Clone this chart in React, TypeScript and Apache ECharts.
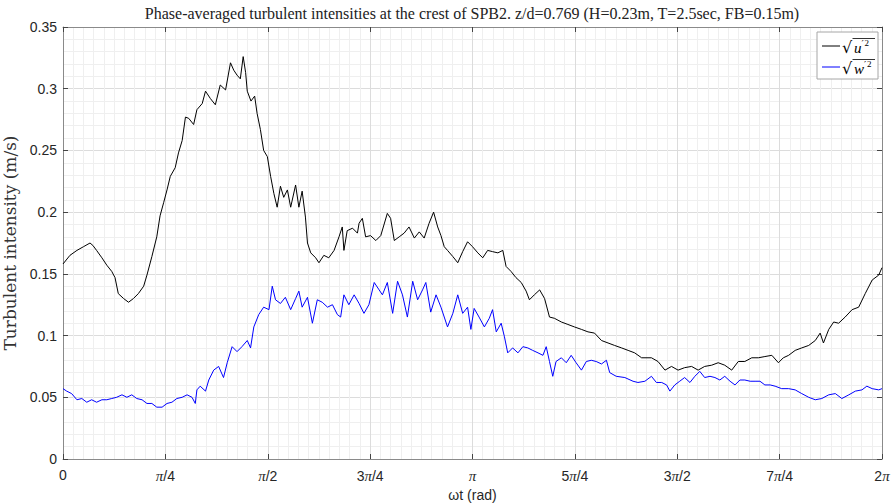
import React, { useEffect, useRef } from "react";
import * as echarts from "echarts";

// Phase samples are stored in units of π (0 … 2 covers one wave period).
const uPhase = [
  0.000, 0.017, 0.034, 0.050, 0.066, 0.073, 0.082, 0.095, 0.107, 0.119, 0.127, 0.135, 0.148, 0.160, 0.172, 0.184,
  0.197, 0.205, 0.217, 0.229, 0.237, 0.246, 0.254, 0.262, 0.274, 0.282, 0.291, 0.299, 0.307, 0.319, 0.327, 0.340,
  0.348, 0.360, 0.372, 0.384, 0.397, 0.409, 0.417, 0.425, 0.433, 0.440, 0.446, 0.450, 0.459, 0.468, 0.474, 0.482,
  0.490, 0.499, 0.507, 0.515, 0.523, 0.531, 0.539, 0.548, 0.556, 0.568, 0.576, 0.584, 0.592, 0.597, 0.605, 0.617,
  0.625, 0.637, 0.649, 0.662, 0.674, 0.682, 0.686, 0.694, 0.707, 0.719, 0.723, 0.731, 0.739, 0.751, 0.764, 0.776,
  0.792, 0.800, 0.809, 0.821, 0.833, 0.845, 0.858, 0.870, 0.882, 0.894, 0.905, 0.915, 0.923, 0.931, 0.939, 0.952,
  0.964, 0.976, 0.988, 1.000, 1.013, 1.025, 1.037, 1.049, 1.062, 1.074, 1.082, 1.094, 1.106, 1.119, 1.131, 1.139,
  1.151, 1.164, 1.176, 1.188, 1.200, 1.217, 1.233, 1.249, 1.266, 1.282, 1.298, 1.315, 1.331, 1.347, 1.364, 1.380,
  1.396, 1.413, 1.437, 1.453, 1.470, 1.486, 1.502, 1.518, 1.535, 1.551, 1.567, 1.584, 1.600, 1.616, 1.633, 1.649,
  1.665, 1.682, 1.698, 1.714, 1.731, 1.747, 1.759, 1.772, 1.788, 1.804, 1.821, 1.837, 1.849, 1.857, 1.870, 1.882,
  1.894, 1.910, 1.927, 1.943, 1.959, 1.976, 1.992, 2.000,
];
const uValues = [
  0.158, 0.165, 0.169, 0.172, 0.175, 0.173, 0.169, 0.163, 0.157, 0.152, 0.147, 0.134, 0.130, 0.127, 0.130, 0.134,
  0.140, 0.149, 0.164, 0.180, 0.197, 0.208, 0.218, 0.229, 0.236, 0.248, 0.258, 0.277, 0.276, 0.271, 0.283, 0.288,
  0.298, 0.292, 0.287, 0.303, 0.299, 0.321, 0.315, 0.311, 0.308, 0.326, 0.313, 0.298, 0.290, 0.294, 0.280, 0.267,
  0.250, 0.245, 0.229, 0.215, 0.204, 0.221, 0.212, 0.218, 0.204, 0.222, 0.204, 0.217, 0.196, 0.175, 0.167, 0.163,
  0.159, 0.165, 0.163, 0.169, 0.180, 0.188, 0.169, 0.185, 0.187, 0.183, 0.191, 0.195, 0.180, 0.181, 0.177, 0.181,
  0.199, 0.195, 0.177, 0.180, 0.183, 0.188, 0.179, 0.184, 0.179, 0.191, 0.200, 0.188, 0.181, 0.172, 0.169, 0.164,
  0.159, 0.168, 0.176, 0.172, 0.167, 0.163, 0.169, 0.168, 0.167, 0.169, 0.156, 0.152, 0.147, 0.143, 0.136, 0.129,
  0.133, 0.137, 0.130, 0.115, 0.114, 0.111, 0.109, 0.107, 0.105, 0.103, 0.102, 0.096, 0.094, 0.092, 0.090, 0.088,
  0.086, 0.082, 0.082, 0.079, 0.072, 0.075, 0.072, 0.074, 0.075, 0.072, 0.075, 0.076, 0.078, 0.076, 0.072, 0.079,
  0.079, 0.082, 0.082, 0.083, 0.084, 0.078, 0.082, 0.084, 0.088, 0.090, 0.092, 0.096, 0.102, 0.094, 0.105, 0.111,
  0.110, 0.115, 0.121, 0.123, 0.134, 0.145, 0.149, 0.155,
];

const wPhase = [
  0.000, 0.009, 0.021, 0.034, 0.046, 0.058, 0.070, 0.082, 0.095, 0.107, 0.119, 0.131, 0.144, 0.156, 0.168, 0.180,
  0.193, 0.205, 0.217, 0.229, 0.242, 0.254, 0.266, 0.278, 0.291, 0.303, 0.315, 0.323, 0.327, 0.335, 0.348, 0.356,
  0.368, 0.380, 0.392, 0.401, 0.413, 0.425, 0.437, 0.450, 0.458, 0.466, 0.478, 0.490, 0.503, 0.511, 0.519, 0.531,
  0.543, 0.556, 0.568, 0.576, 0.584, 0.597, 0.609, 0.621, 0.633, 0.646, 0.658, 0.670, 0.678, 0.686, 0.698, 0.711,
  0.723, 0.735, 0.747, 0.760, 0.772, 0.780, 0.792, 0.805, 0.817, 0.829, 0.841, 0.854, 0.866, 0.878, 0.886, 0.898,
  0.911, 0.923, 0.939, 0.952, 0.964, 0.976, 0.988, 0.996, 1.004, 1.016, 1.029, 1.041, 1.049, 1.058, 1.070, 1.078,
  1.086, 1.098, 1.111, 1.123, 1.135, 1.147, 1.160, 1.172, 1.180, 1.188, 1.196, 1.204, 1.217, 1.229, 1.241, 1.253,
  1.266, 1.278, 1.290, 1.302, 1.315, 1.327, 1.335, 1.351, 1.372, 1.392, 1.404, 1.421, 1.437, 1.449, 1.462, 1.474,
  1.482, 1.494, 1.506, 1.518, 1.531, 1.543, 1.555, 1.567, 1.580, 1.592, 1.604, 1.616, 1.629, 1.641, 1.653, 1.665,
  1.678, 1.690, 1.702, 1.714, 1.727, 1.739, 1.755, 1.772, 1.788, 1.804, 1.821, 1.837, 1.853, 1.870, 1.886, 1.902,
  1.919, 1.935, 1.951, 1.963, 1.976, 1.992, 2.000,
];
const wValues = [
  0.057, 0.055, 0.053, 0.048, 0.049, 0.046, 0.048, 0.046, 0.048, 0.048, 0.049, 0.050, 0.052, 0.050, 0.052, 0.049,
  0.048, 0.045, 0.045, 0.042, 0.042, 0.045, 0.046, 0.049, 0.050, 0.052, 0.050, 0.045, 0.056, 0.059, 0.055, 0.064,
  0.072, 0.075, 0.066, 0.078, 0.091, 0.087, 0.091, 0.096, 0.090, 0.107, 0.117, 0.123, 0.121, 0.140, 0.129, 0.126,
  0.131, 0.121, 0.130, 0.136, 0.123, 0.131, 0.110, 0.129, 0.127, 0.123, 0.125, 0.117, 0.115, 0.133, 0.125, 0.133,
  0.126, 0.118, 0.125, 0.143, 0.137, 0.133, 0.143, 0.118, 0.144, 0.133, 0.115, 0.144, 0.129, 0.137, 0.143, 0.119,
  0.133, 0.123, 0.107, 0.118, 0.133, 0.118, 0.123, 0.105, 0.122, 0.115, 0.107, 0.114, 0.121, 0.103, 0.110, 0.099,
  0.086, 0.090, 0.086, 0.091, 0.090, 0.088, 0.086, 0.084, 0.091, 0.079, 0.067, 0.079, 0.082, 0.078, 0.084, 0.078,
  0.072, 0.079, 0.080, 0.079, 0.077, 0.080, 0.070, 0.067, 0.066, 0.063, 0.062, 0.063, 0.067, 0.062, 0.062, 0.060,
  0.055, 0.060, 0.063, 0.066, 0.062, 0.067, 0.071, 0.066, 0.067, 0.066, 0.064, 0.067, 0.063, 0.060, 0.064, 0.064,
  0.063, 0.063, 0.063, 0.060, 0.060, 0.059, 0.057, 0.057, 0.056, 0.053, 0.050, 0.048, 0.049, 0.052, 0.053, 0.049,
  0.052, 0.055, 0.056, 0.059, 0.057, 0.056, 0.057,
];

const phaseTickLabels = ["0", "π/4", "π/2", "3π/4", "π", "5π/4", "3π/2", "7π/4", "2π"];

const TITLE =
  "Phase-averaged turbulent intensities at the crest of SPB2. z/d=0.769 (H=0.23m, T=2.5sec, FB=0.15m)";
const Y_NAME = "Turbulent intensity (m/s)";
const X_NAME = "ωt (rad)";

const SANS = "'Liberation Sans', Arial, sans-serif";
const SERIF = "'Liberation Serif', 'DejaVu Serif', serif";
const SERIF_WIDE = "'DejaVu Serif', 'Liberation Serif', serif";
const AXIS_GRAY = "#8a8a8a";
const LABEL_COLOR = "#262626";

// Plot frame in pixels (grid margins)
const GRID = { left: 63, right: 11, top: 27, bottom: 45 };

function legendEntry(top: number, color: string, letter: string) {
  // sample line followed by √(letter′²) with an overbar
  const z = 21;
  return {
    type: "group",
    x: 817,
    y: top,
    silent: true,
    children: [
      { type: "line", z, shape: { x1: 5, y1: 0, x2: 23, y2: 0 }, style: { stroke: color, lineWidth: 1 } },
      {
        type: "text",
        z,
        x: 25,
        y: 1,
        style: { text: "√", font: `16px ${SERIF_WIDE}`, fill: "#000", textVerticalAlign: "middle" },
      },
      { type: "line", z, shape: { x1: 35.5, y1: -7.5, x2: 58, y2: -7.5 }, style: { stroke: "#000", lineWidth: 0.8 } },
      {
        type: "text",
        z,
        x: 37,
        y: 2,
        style: { text: letter, font: `italic 15px ${SERIF}`, fill: "#000", textVerticalAlign: "middle" },
      },
      {
        type: "text",
        z,
        x: letter === "w" ? 47 : 44.5,
        y: -2.5,
        style: { text: "′", font: `10px ${SERIF_WIDE}`, fill: "#000", textVerticalAlign: "middle" },
      },
      {
        type: "text",
        z,
        x: letter === "w" ? 50 : 47.5,
        y: -3,
        style: { text: "2", font: `9px ${SERIF}`, fill: "#000", textVerticalAlign: "middle" },
      },
    ],
  };
}

export default function App() {
  const ref = useRef<HTMLDivElement>(null);

  useEffect(() => {
    document.body.style.margin = "0";
    if (!ref.current) return;
    const chart = echarts.init(ref.current, undefined, { renderer: "svg" });

    const uData = uPhase.map((p, i) => [p, uValues[i]]);
    const wData = wPhase.map((p, i) => [p, wValues[i]]);

    const phaseAxisBase = {
      type: "value",
      min: 0,
      max: 2,
      interval: 0.25,
      axisLine: { show: true, onZero: false, lineStyle: { color: AXIS_GRAY, width: 1 } },
      axisTick: { show: true, inside: true, length: 5, lineStyle: { color: "#444" } },
    };
    const valueAxisBase = {
      type: "value",
      min: 0,
      max: 0.35,
      interval: 0.05,
      axisLine: { show: true, onZero: false, lineStyle: { color: AXIS_GRAY, width: 1 } },
      axisTick: { show: true, inside: true, length: 5, lineStyle: { color: "#444" } },
    };

    chart.setOption({
      animation: false,
      backgroundColor: "#ffffff",
      grid: { ...GRID, containLabel: false, outerBoundsMode: "none" },
      xAxis: [
        {
          ...phaseAxisBase,
          position: "bottom",
          name: X_NAME,
          nameLocation: "middle",
          nameGap: 29,
          nameTextStyle: { fontFamily: SANS, fontSize: 14, color: LABEL_COLOR },
          axisLabel: {
            show: true,
            margin: 9,
            fontFamily: SANS,
            fontSize: 14,
            color: LABEL_COLOR,
            formatter: (v: number) => {
              const lbl = phaseTickLabels[Math.round(v * 4)] ?? "";
              return lbl.replace("π", "{p|π}");
            },
            rich: {
              p: { fontFamily: SERIF, fontStyle: "italic", fontSize: 15, color: LABEL_COLOR },
            },
          },
          splitLine: { show: true, lineStyle: { color: "#dcdcdc", width: 1 } },
          minorTick: { show: false, splitNumber: 10 },
          minorSplitLine: { show: true, lineStyle: { color: "#efefef", width: 1 } },
        },
        {
          ...phaseAxisBase,
          position: "top",
          axisLabel: { show: false },
          splitLine: { show: false },
        },
      ],
      yAxis: [
        {
          ...valueAxisBase,
          position: "left",
          name: Y_NAME,
          nameLocation: "middle",
          nameGap: 45,
          nameTextStyle: { fontFamily: SERIF_WIDE, fontSize: 17, color: "#333333" },
          axisLabel: { show: true, margin: 6, fontFamily: SANS, fontSize: 14, color: LABEL_COLOR },
          splitLine: { show: true, lineStyle: { color: "#dcdcdc", width: 1 } },
          minorTick: { show: false, splitNumber: 5 },
          minorSplitLine: { show: true, lineStyle: { color: "#efefef", width: 1 } },
        },
        {
          ...valueAxisBase,
          position: "right",
          axisLabel: { show: false },
          splitLine: { show: false },
        },
      ],
      series: [
        {
          name: "sqrt(u'^2)",
          type: "line",
          xAxisIndex: 0,
          yAxisIndex: 0,
          data: uData,
          showSymbol: false,
          lineStyle: { color: "#000000", width: 1 },
          z: 3,
        },
        {
          name: "sqrt(w'^2)",
          type: "line",
          xAxisIndex: 0,
          yAxisIndex: 0,
          data: wData,
          showSymbol: false,
          lineStyle: { color: "#0000ff", width: 1 },
          z: 2,
        },
      ],
      graphic: [
        {
          type: "text",
          x: 472,
          y: 13,
          silent: true,
          style: {
            text: TITLE,
            font: `16px ${SERIF}`,
            fill: "#222",
            textAlign: "center",
            textVerticalAlign: "middle",
          },
        },
        {
          type: "rect",
          z: 20,
          shape: { x: 817, y: 32, width: 61, height: 47 },
          style: { fill: "#ffffff", stroke: "#a6a6a6", lineWidth: 1 },
          silent: true,
        },
        legendEntry(46, "#000000", "u"),
        legendEntry(67, "#0000ff", "w"),
      ],
    });

    return () => {
      chart.dispose();
    };
  }, []);

  return <div ref={ref} style={{ width: 893, height: 504 }} />;
}
